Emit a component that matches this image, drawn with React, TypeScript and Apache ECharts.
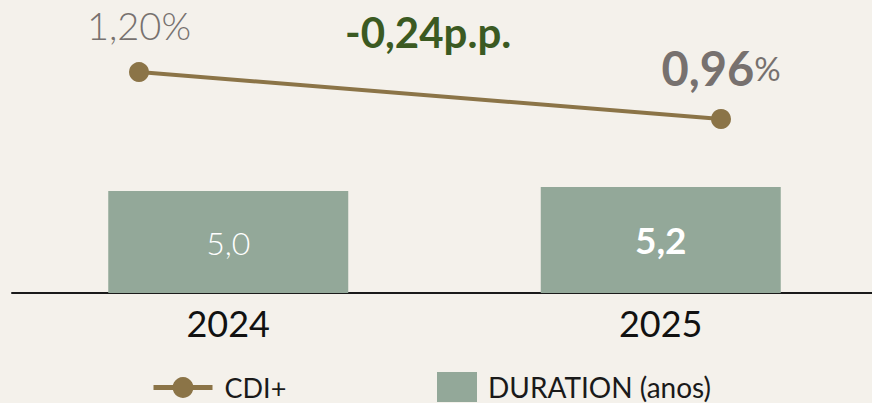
import React, { useEffect, useRef } from "react";
import * as echarts from "echarts";

const categories = ["2024", "2025"];
const durationValues = [5.0, 5.2];
const cdiValues = [1.2, 0.96];
const seriesNames = { cdi: "CDI+", duration: "DURATION (anos)" };

const FONT = "Lato, 'Noto Sans', sans-serif";
const fmt = (v: number, d: number) => v.toFixed(d).replace(".", ",");

export default function App() {
  const ref = useRef<HTMLDivElement>(null);
  useEffect(() => {
    document.body.style.margin = "0";
    if (!ref.current) return;
    const chart = echarts.init(ref.current, undefined, { renderer: "svg" });
    const delta = cdiValues[cdiValues.length - 1] - cdiValues[0];
    const deltaText = (delta < 0 ? "-" : "+") + fmt(Math.abs(delta), 2) + "p.p.";
    const last = durationValues.length - 1;
    const lastCdi = cdiValues.length - 1;
    chart.setOption({
      animation: false,
      backgroundColor: "#f4f1eb",
      textStyle: { fontFamily: FONT },
      grid: [
        { left: 12, top: 89, width: 865, height: 204, outerBoundsMode: "none", containLabel: false },
        { left: 139, top: 13.3, width: 582, height: 195.8, outerBoundsMode: "none", containLabel: false },
      ],
      xAxis: [
        {
          type: "category",
          gridIndex: 0,
          data: categories,
          axisLine: { lineStyle: { color: "#1a1a1a", width: 2 } },
          axisTick: { show: false },
          axisLabel: { fontSize: 36, color: "#111", margin: 12, fontFamily: FONT },
        },
        {
          type: "category",
          gridIndex: 1,
          data: categories,
          boundaryGap: false,
          show: false,
        },
      ],
      yAxis: [
        { type: "value", gridIndex: 0, min: 0, max: 10, show: false, splitLine: { show: false } },
        { type: "value", gridIndex: 1, min: 0.5, max: 1.5, show: false, splitLine: { show: false } },
      ],
      legend: [
        {
          data: [seriesNames.cdi],
          left: 151,
          top: 374,
          padding: 0,
          itemWidth: 59,
          itemHeight: 26,
          lineStyle: { width: 5 },
          textStyle: { fontSize: 27, color: "#1a1a1a", fontFamily: FONT, padding: [0, 0, 0, 7] },
        },
        {
          data: [seriesNames.duration],
          left: 437,
          top: 372,
          padding: 0,
          itemWidth: 40,
          itemHeight: 30,
          icon: "rect",
          textStyle: { fontSize: 28, color: "#1a1a1a", fontFamily: FONT, padding: [0, 0, 0, 6] },
        },
      ],
      graphic: [
        {
          type: "text",
          left: 345,
          top: 11,
          style: {
            text: deltaText,
            fontSize: 42,
            fontWeight: "bold",
            fontFamily: FONT,
            fill: "#3b5a22",
          },
        },
      ],
      series: [
        {
          type: "bar",
          name: seriesNames.duration,
          xAxisIndex: 0,
          yAxisIndex: 0,
          barWidth: 240,
          itemStyle: { color: "#93a899" },
          label: {
            show: true,
            position: "inside",
            color: "#ffffff",
            fontFamily: FONT,
            fontSize: 32,
            formatter: (p: any) => fmt(p.value, 1),
          },
          data: durationValues.map((v, i) =>
            i === last
              ? { value: v, label: { fontSize: 37, fontWeight: "bold" } }
              : { value: v, label: { fontSize: 32, fontWeight: 300 } }
          ),
        },
        {
          type: "line",
          name: seriesNames.cdi,
          xAxisIndex: 1,
          yAxisIndex: 1,
          symbol: "circle",
          symbolSize: 20,
          lineStyle: { width: 4, color: "#8b7447" },
          itemStyle: { color: "#8b7447" },
          label: {
            show: true,
            position: "top",
            distance: 12,
            fontFamily: FONT,
            color: "#77716f",
          },
          data: cdiValues.map((v, i) =>
            i === lastCdi
              ? {
                  value: v,
                  label: {
                    distance: 18,
                    formatter: (p: any) => "{a|" + fmt(p.value, 2) + "}{b|%}",
                    rich: {
                      a: { fontSize: 47, fontWeight: "bold", color: "#77716f", fontFamily: FONT },
                      b: { fontSize: 33, fontWeight: "normal", color: "#77716f", fontFamily: FONT },
                    },
                  },
                }
              : {
                  value: v,
                  label: {
                    fontSize: 38,
                    fontWeight: 300,
                    distance: 18,
                    formatter: (p: any) => fmt(p.value, 2) + "%",
                  },
                }
          ),
        },
      ],
    });
    return () => chart.dispose();
  }, []);
  return <div ref={ref} style={{ width: 872, height: 403 }} />;
}
